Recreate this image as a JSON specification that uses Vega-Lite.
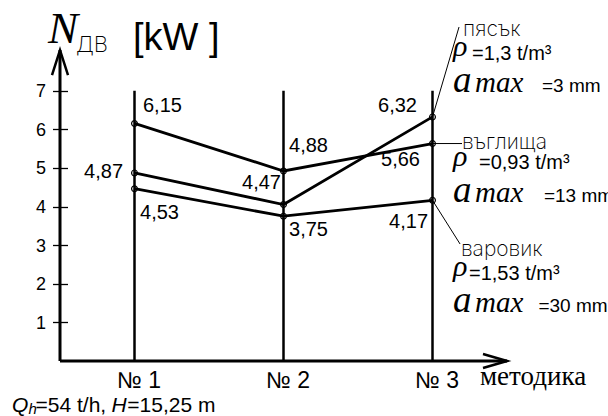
{
  "$schema": "https://vega.github.io/schema/vega-lite/v6.json",
  "width": 447,
  "height": 309,
  "autosize": {"type": "none"},
  "padding": {"left": 60, "top": 52, "right": 101, "bottom": 55},
  "background": "white",
  "config": {"view": {"stroke": null}, "axis": {"grid": false}},
  "datasets": {
    "series": [
      {"method": 1, "material": "въглища", "power": 6.15},
      {"method": 2, "material": "въглища", "power": 4.92},
      {"method": 3, "material": "въглища", "power": 5.63},
      {"method": 1, "material": "пясък", "power": 4.87},
      {"method": 2, "material": "пясък", "power": 4.05},
      {"method": 3, "material": "пясък", "power": 6.32},
      {"method": 1, "material": "варовик", "power": 4.46},
      {"method": 2, "material": "варовик", "power": 3.75},
      {"method": 3, "material": "варовик", "power": 4.16}
    ],
    "methods": [{"method": 1}, {"method": 2}, {"method": 3}],
    "leaders": [
      {"x": 3, "y": 6.32, "x2": 3.178, "y2": 8.647},
      {"x": 3, "y": 5.63, "x2": 3.198, "y2": 5.63},
      {"x": 3, "y": 4.16, "x2": 3.185, "y2": 3.029}
    ],
    "labelsLeft": [
      {"x": 1.057, "y": 6.602, "t": "6,15"},
      {"x": 1.037, "y": 3.832, "t": "4,53"},
      {"x": 2.037, "y": 5.566, "t": "4,88"},
      {"x": 2.037, "y": 3.392, "t": "3,75"}
    ],
    "labelsRight": [
      {"x": 0.923, "y": 4.893, "t": "4,87"},
      {"x": 1.983, "y": 4.608, "t": "4,47"},
      {"x": 2.896, "y": 6.602, "t": "6,32"},
      {"x": 2.916, "y": 5.204, "t": "5,66"},
      {"x": 2.970, "y": 3.599, "t": "4,17"}
    ],
    "names": [
      {"x": 3.205, "y": 8.57, "t": "пясък"},
      {"x": 3.198, "y": 5.644, "t": "въглища"},
      {"x": 3.191, "y": 2.874, "t": "варовик"}
    ],
    "rho": [
      {"x": 3.138, "y": 7.896, "t": "ρ"},
      {"x": 3.138, "y": 5.049, "t": "ρ"},
      {"x": 3.138, "y": 2.201, "t": "ρ"}
    ],
    "density": [
      {"x": 3.265, "y": 7.793, "t": "=1,3 t/m³"},
      {"x": 3.312, "y": 4.971, "t": "=0,93 t/m³"},
      {"x": 3.245, "y": 2.097, "t": "=1,53 t/m³"}
    ],
    "aSym": [
      {"x": 3.138, "y": 6.964, "t": "a"},
      {"x": 3.138, "y": 4.117, "t": "a"},
      {"x": 3.138, "y": 1.269, "t": "a"}
    ],
    "maxSym": [
      {"x": 3.285, "y": 6.964, "t": "max"},
      {"x": 3.285, "y": 4.117, "t": "max"},
      {"x": 3.285, "y": 1.269, "t": "max"}
    ],
    "sizes": [
      {"x": 3.735, "y": 6.964, "t": "=3 mm"},
      {"x": 3.748, "y": 4.117, "t": "=13 mm"},
      {"x": 3.711, "y": 1.269, "t": "=30 mm"}
    ]
  },
  "layer": [
    {
      "data": {"name": "methods"},
      "mark": {"type": "rule", "color": "black", "strokeWidth": 2.5},
      "encoding": {
        "x": {
          "field": "method", "type": "quantitative",
          "scale": {"domain": [0.5, 3.5], "nice": false, "zero": false},
          "axis": {
            "values": [1, 2, 3], "title": null, "domain": false, "ticks": false, "tickSize": 0,
            "labelExpr": "'№ ' + datum.value", "labelFont": "Liberation Sans", "labelFontSize": 23,
            "labelColor": "black", "labelBaseline": "alphabetic", "labelPadding": 26, "labelOffset": 4
          }
        },
        "y": {"datum": 0, "type": "quantitative"},
        "y2": {"datum": 7}
      }
    },
    {
      "data": {"values": [{}]},
      "mark": {"type": "rule", "color": "black", "strokeWidth": 3},
      "encoding": {
        "x": {"datum": 0.5, "type": "quantitative"},
        "x2": {"datum": 3.5},
        "y": {"datum": 0, "type": "quantitative"}
      }
    },
    {
      "data": {"values": [{}]},
      "mark": {"type": "rule", "color": "black", "strokeWidth": 3},
      "encoding": {
        "x": {"datum": 0.5, "type": "quantitative"},
        "y": {"datum": 0, "type": "quantitative"},
        "y2": {"datum": 8.05}
      }
    },
    {
      "data": {"values": [{}]},
      "mark": {"type": "point", "shape": "M-8,25L0,0L8,25", "size": 4, "filled": false, "stroke": "black", "strokeWidth": 2.5, "opacity": 1},
      "encoding": {
        "x": {"datum": 0.5, "type": "quantitative"},
        "y": {"datum": 8.05, "type": "quantitative"}
      }
    },
    {
      "data": {"values": [{}]},
      "mark": {"type": "point", "shape": "M-24,-7L0,0L-24,7", "size": 4, "filled": false, "stroke": "black", "strokeWidth": 2.5, "opacity": 1},
      "encoding": {
        "x": {"datum": 3.5, "type": "quantitative"},
        "y": {"datum": 0, "type": "quantitative"}
      }
    },
    {
      "data": {"name": "series"},
      "mark": {"type": "line", "color": "black", "strokeWidth": 2.8},
      "encoding": {
        "x": {
          "field": "method", "type": "quantitative",
          "scale": {"domain": [0.5, 3.5], "nice": false, "zero": false},
          "axis": {
            "values": [1, 2, 3], "title": null, "domain": false, "ticks": false, "tickSize": 0,
            "labelExpr": "'№ ' + datum.value", "labelFont": "Liberation Sans", "labelFontSize": 23,
            "labelColor": "black", "labelBaseline": "alphabetic", "labelPadding": 26, "labelOffset": 4
          }
        },
        "y": {
          "field": "power", "type": "quantitative",
          "scale": {"domain": [0, 8], "nice": false},
          "axis": {
            "values": [1, 2, 3, 4, 5, 6, 7], "title": null, "domain": false, "tickSize": 15,
            "tickColor": "black", "tickWidth": 1.3, "offset": -7.5, "labelPadding": 7,
            "labelFont": "Liberation Sans", "labelFontSize": 18, "labelColor": "black", "labelOffset": 1
          }
        },
        "detail": {"field": "material"}
      }
    },
    {
      "data": {"name": "series"},
      "mark": {"type": "point", "shape": "circle", "size": 34, "filled": false, "stroke": "black", "strokeWidth": 1.2, "opacity": 1},
      "encoding": {
        "x": {"field": "method", "type": "quantitative"},
        "y": {"field": "power", "type": "quantitative"}
      }
    },
    {
      "data": {"name": "leaders"},
      "mark": {"type": "rule", "color": "black", "strokeWidth": 1},
      "encoding": {
        "x": {"field": "x", "type": "quantitative"},
        "y": {"field": "y", "type": "quantitative"},
        "x2": {"field": "x2"},
        "y2": {"field": "y2"}
      }
    },
    {
      "data": {"name": "labelsLeft"},
      "mark": {"type": "text", "align": "left", "baseline": "middle", "font": "Liberation Sans", "fontSize": 20, "color": "black"},
      "encoding": {
        "x": {"field": "x", "type": "quantitative"},
        "y": {"field": "y", "type": "quantitative"},
        "text": {"field": "t"}
      }
    },
    {
      "data": {"name": "labelsRight"},
      "mark": {"type": "text", "align": "right", "baseline": "middle", "font": "Liberation Sans", "fontSize": 20, "color": "black"},
      "encoding": {
        "x": {"field": "x", "type": "quantitative"},
        "y": {"field": "y", "type": "quantitative"},
        "text": {"field": "t"}
      }
    },
    {
      "data": {"name": "names"},
      "mark": {"type": "text", "align": "left", "baseline": "middle", "font": "Inter", "fontWeight": 200, "fontSize": 21, "color": "black"},
      "encoding": {
        "x": {"field": "x", "type": "quantitative"},
        "y": {"field": "y", "type": "quantitative"},
        "text": {"field": "t"}
      }
    },
    {
      "data": {"name": "rho"},
      "mark": {"type": "text", "align": "left", "baseline": "alphabetic", "font": "Liberation Serif", "fontStyle": "italic", "fontSize": 30, "color": "black"},
      "encoding": {
        "x": {"field": "x", "type": "quantitative"},
        "y": {"field": "y", "type": "quantitative"},
        "text": {"field": "t"}
      }
    },
    {
      "data": {"name": "density"},
      "mark": {"type": "text", "align": "left", "baseline": "alphabetic", "font": "Liberation Sans", "fontSize": 20, "color": "black"},
      "encoding": {
        "x": {"field": "x", "type": "quantitative"},
        "y": {"field": "y", "type": "quantitative"},
        "text": {"field": "t"}
      }
    },
    {
      "data": {"name": "aSym"},
      "mark": {"type": "text", "align": "left", "baseline": "alphabetic", "font": "Liberation Serif", "fontStyle": "italic", "fontSize": 37, "color": "black"},
      "encoding": {
        "x": {"field": "x", "type": "quantitative"},
        "y": {"field": "y", "type": "quantitative"},
        "text": {"field": "t"}
      }
    },
    {
      "data": {"name": "maxSym"},
      "mark": {"type": "text", "align": "left", "baseline": "alphabetic", "font": "Liberation Serif", "fontStyle": "italic", "fontSize": 29, "color": "black"},
      "encoding": {
        "x": {"field": "x", "type": "quantitative"},
        "y": {"field": "y", "type": "quantitative"},
        "text": {"field": "t"}
      }
    },
    {
      "data": {"name": "sizes"},
      "mark": {"type": "text", "align": "left", "baseline": "alphabetic", "font": "Liberation Sans", "fontSize": 19, "color": "black"},
      "encoding": {
        "x": {"field": "x", "type": "quantitative"},
        "y": {"field": "y", "type": "quantitative"},
        "text": {"field": "t"}
      }
    },
    {
      "data": {"values": [{"x": 0.419, "y": 8.233, "t": "N"}]},
      "mark": {"type": "text", "align": "left", "baseline": "alphabetic", "font": "Liberation Serif", "fontStyle": "italic", "fontSize": 45, "color": "black"},
      "encoding": {
        "x": {"field": "x", "type": "quantitative"},
        "y": {"field": "y", "type": "quantitative"},
        "text": {"field": "t"}
      }
    },
    {
      "data": {"values": [{"x": 0.607, "y": 8.0, "t": "ДВ"}]},
      "mark": {"type": "text", "align": "left", "baseline": "alphabetic", "font": "Inter", "fontWeight": 200, "fontSize": 22, "color": "black"},
      "encoding": {
        "x": {"field": "x", "type": "quantitative"},
        "y": {"field": "y", "type": "quantitative"},
        "text": {"field": "t"}
      }
    },
    {
      "data": {"values": [{"x": 0.99, "y": 8.052, "t": "[kW ]"}]},
      "mark": {"type": "text", "align": "left", "baseline": "alphabetic", "font": "Liberation Sans", "fontSize": 38, "color": "black"},
      "encoding": {
        "x": {"field": "x", "type": "quantitative"},
        "y": {"field": "y", "type": "quantitative"},
        "text": {"field": "t"}
      }
    },
    {
      "data": {"values": [{"x": 3.319, "y": -0.621, "t": "методика"}]},
      "mark": {"type": "text", "align": "left", "baseline": "alphabetic", "font": "Liberation Serif", "fontSize": 27, "color": "black"},
      "encoding": {
        "x": {"field": "x", "type": "quantitative"},
        "y": {"field": "y", "type": "quantitative"},
        "text": {"field": "t"}
      }
    },
    {
      "data": {"values": [{"x": 0.178, "y": -1.32, "t": "Q"}, {"x": 0.846, "y": -1.32, "t": "H"}]},
      "mark": {"type": "text", "align": "left", "baseline": "alphabetic", "font": "Liberation Sans", "fontStyle": "italic", "fontSize": 21, "color": "black"},
      "encoding": {
        "x": {"field": "x", "type": "quantitative"},
        "y": {"field": "y", "type": "quantitative"},
        "text": {"field": "t"}
      }
    },
    {
      "data": {"values": [{"x": 0.288, "y": -1.372, "t": "h"}]},
      "mark": {"type": "text", "align": "left", "baseline": "alphabetic", "font": "Liberation Sans", "fontStyle": "italic", "fontSize": 15, "color": "black"},
      "encoding": {
        "x": {"field": "x", "type": "quantitative"},
        "y": {"field": "y", "type": "quantitative"},
        "text": {"field": "t"}
      }
    },
    {
      "data": {"values": [{"x": 0.336, "y": -1.32, "t": "=54 t/h,"}, {"x": 0.952, "y": -1.32, "t": "=15,25 m"}]},
      "mark": {"type": "text", "align": "left", "baseline": "alphabetic", "font": "Liberation Sans", "fontSize": 21, "color": "black"},
      "encoding": {
        "x": {"field": "x", "type": "quantitative"},
        "y": {"field": "y", "type": "quantitative"},
        "text": {"field": "t"}
      }
    }
  ]
}
